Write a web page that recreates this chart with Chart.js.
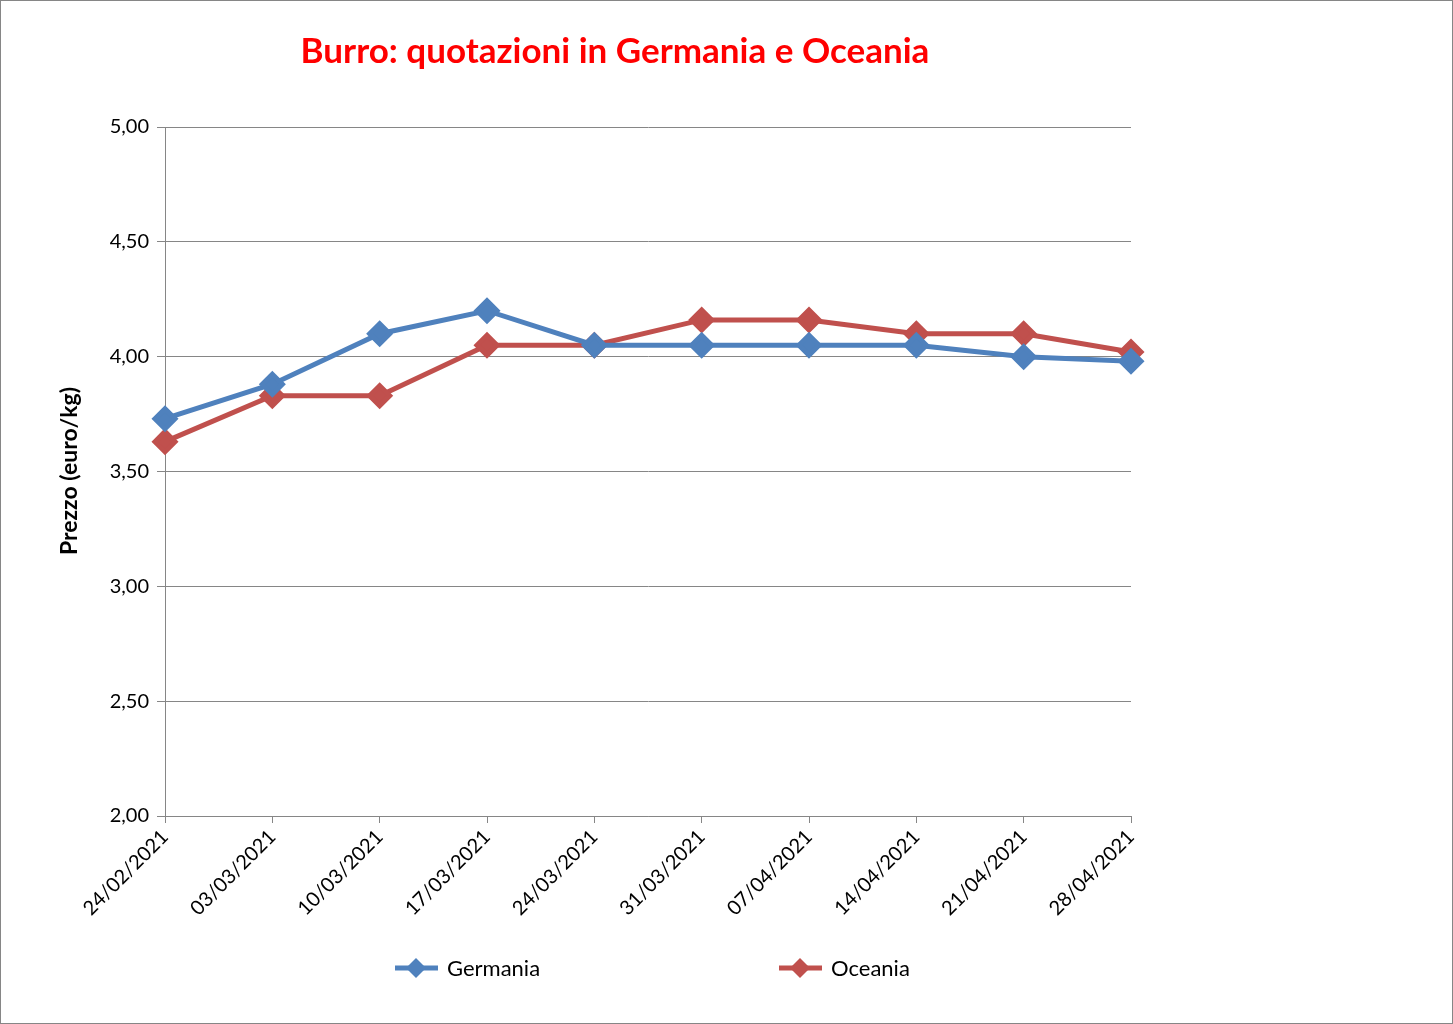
<!DOCTYPE html>
<html>
<head>
<meta charset="utf-8">
<script src="https://cdn.jsdelivr.net/npm/chart.js@4.4.1/dist/chart.umd.min.js"></script>
<style>
  html, body { margin: 0; padding: 0; background: #fff; }
  #wrap { width: 1453px; height: 1024px; position: relative; }
</style>
</head>
<body>
<div id="wrap"><canvas id="grafico"></canvas></div>
<script>
// dati
const categorie = ["24/02/2021", "03/03/2021", "10/03/2021", "17/03/2021", "24/03/2021",
  "31/03/2021", "07/04/2021", "14/04/2021", "21/04/2021", "28/04/2021"];
const germania = [3.73, 3.88, 4.10, 4.20, 4.05, 4.05, 4.05, 4.05, 4.00, 3.98];
const oceania = [3.63, 3.83, 3.83, 4.05, 4.05, 4.16, 4.16, 4.10, 4.10, 4.02];
const tickY = [2.0, 2.5, 3.0, 3.5, 4.0, 4.5, 5.0];

const titolo = "Burro: quotazioni in Germania e Oceania";
const titoloAsse = "Prezzo (euro/kg)";
const BLU = "#4F81BD";
const ROSSO = "#C0504D";
const FONT = "Lato, 'Open Sans', sans-serif";

// cornice, titoli e legenda disegnati a mano
const decorazioni = {
  id: "decorazioni",
  afterDraw(chart) {
    const ctx = chart.ctx;
    ctx.save();
    ctx.strokeStyle = "#868686";
    ctx.lineWidth = 1;
    ctx.strokeRect(0.5, 0.5, chart.width - 1, chart.height - 1);

    ctx.fillStyle = "#FF0000";
    ctx.font = "bold 35px " + FONT;
    ctx.textAlign = "center";
    ctx.textBaseline = "middle";
    ctx.fillText(titolo, 615, 52);

    // titolo asse y
    ctx.save();
    ctx.translate(70, 471);
    ctx.rotate(-Math.PI / 2);
    ctx.fillStyle = "#000";
    ctx.font = "bold 23px " + FONT;
    ctx.fillText(titoloAsse, 0, 0);
    ctx.restore();

    const voci = [
      { nome: "Germania", colore: BLU, x: 395 },
      { nome: "Oceania", colore: ROSSO, x: 779 },
    ];
    voci.forEach((v) => {
      const y = 968;
      ctx.strokeStyle = v.colore;
      ctx.lineWidth = 5;
      ctx.beginPath();
      ctx.moveTo(v.x, y);
      ctx.lineTo(v.x + 43, y);
      ctx.stroke();
      ctx.fillStyle = v.colore;
      ctx.beginPath();
      const cx = v.x + 21;
      ctx.moveTo(cx, y - 10);
      ctx.lineTo(cx + 10, y);
      ctx.lineTo(cx, y + 10);
      ctx.lineTo(cx - 10, y);
      ctx.closePath();
      ctx.fill();
      ctx.fillStyle = "#000";
      ctx.font = "22px " + FONT;
      ctx.textAlign = "left";
      ctx.fillText(v.nome, v.x + 52, y + 1);
    });
    ctx.restore();
  },
};

const serie = (label, data, colore) => ({
  label,
  data,
  borderColor: colore,
  backgroundColor: colore,
  borderWidth: 5,
  pointStyle: "rectRot",
  pointRadius: 10,
  pointHoverRadius: 10,
  tension: 0,
});

new Chart(document.getElementById("grafico"), {
  type: "line",
  data: {
    labels: categorie,
    datasets: [serie("Germania", germania, BLU), serie("Oceania", oceania, ROSSO)],
  },
  options: {
    responsive: true,
    maintainAspectRatio: false,
    animation: false,
    layout: { padding: { top: 127, right: 322, bottom: 0, left: 0 } },
    plugins: {
      legend: { display: false },
      title: { display: false },
      tooltip: { enabled: false },
    },
    scales: {
      x: {
        offset: false,
        grid: { display: true, drawOnChartArea: false, color: "#868686", tickLength: 7, tickColor: "#868686" },
        border: { color: "#868686", width: 1 },
        ticks: { color: "#000", font: { family: FONT, size: 20 }, minRotation: 45, maxRotation: 45, padding: 2 },
        afterFit: (s) => { s.height = 208; },
      },
      y: {
        min: 2,
        max: 5,
        afterBuildTicks: (s) => { s.ticks = tickY.map((v) => ({ value: v })); },
        grid: { color: "#868686", tickLength: 8, tickColor: "#868686" },
        border: { color: "#868686", width: 1 },
        ticks: {
          color: "#000",
          font: { family: FONT, size: 20 },
          padding: 8,
          callback: (v) => v.toFixed(2).replace(".", ","),
        },
        afterFit: (s) => { s.width = 165; },
      },
    },
  },
  plugins: [decorazioni],
});
</script>
</body>
</html>
